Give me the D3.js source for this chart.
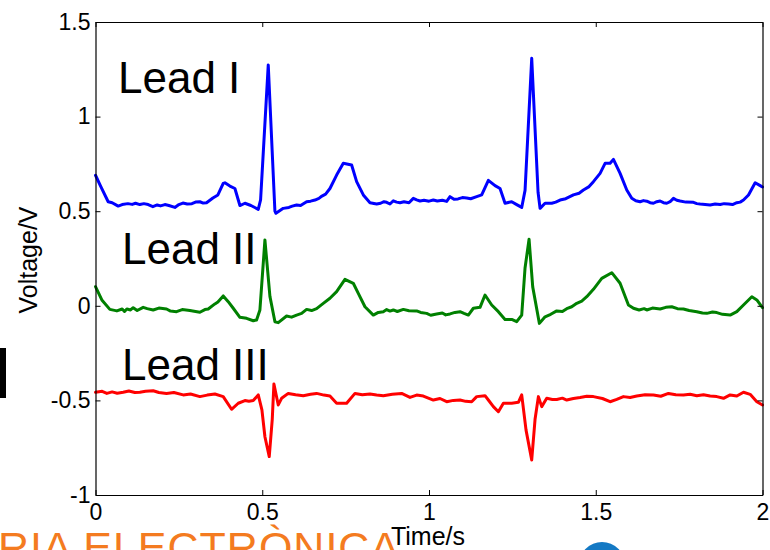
<!DOCTYPE html>
<html>
<head>
<meta charset="utf-8">
<script src="https://cdn.jsdelivr.net/npm/d3@7/dist/d3.min.js"></script>
<style>
  html, body { margin: 0; padding: 0; background: #fff; }
  svg { display: block; }
  text { font-family: "Liberation Sans", Arial, Helvetica, sans-serif; }
</style>
</head>
<body>
<script>
// ---------- data ----------
const xTicks = [0, 0.5, 1, 1.5, 2];
const yTicks = [-1, -0.5, 0, 0.5, 1, 1.5];
const leadNames = ["Lead I", "Lead II", "Lead III"];

const leadI_t = [0,0.016,0.038,0.05,0.068,0.08,0.097,0.11,0.12,0.133,0.145,0.158,0.172,0.185,0.195,0.208,0.22,0.238,0.25,0.262,0.275,0.289,0.30,0.313,0.323,0.333,0.343,0.352,0.367,0.383,0.388,0.403,0.418,0.433,0.448,0.466,0.488,0.495,0.518,0.538,0.541,0.563,0.58,0.59,0.603,0.615,0.633,0.645,0.658,0.67,0.679,0.69,0.703,0.723,0.743,0.768,0.783,0.803,0.823,0.843,0.855,0.865,0.873,0.883,0.893,0.903,0.913,0.925,0.94,0.953,0.963,0.973,0.985,1.0,1.013,1.025,1.04,1.053,1.063,1.075,1.087,1.10,1.113,1.125,1.143,1.158,1.178,1.198,1.213,1.228,1.248,1.263,1.278,1.288,1.308,1.327,1.333,1.348,1.368,1.38,1.393,1.41,1.433,1.45,1.463,1.48,1.493,1.513,1.528,1.543,1.553,1.573,1.593,1.608,1.62,1.633,1.643,1.653,1.663,1.673,1.683,1.693,1.703,1.713,1.723,1.733,1.743,1.753,1.77,1.793,1.803,1.813,1.828,1.843,1.858,1.873,1.885,1.898,1.91,1.923,1.933,1.943,1.958,1.978,1.993,2.0];
const leadI_v = [0.69,0.63,0.55,0.545,0.527,0.535,0.54,0.536,0.542,0.535,0.54,0.535,0.524,0.533,0.528,0.535,0.53,0.52,0.535,0.543,0.538,0.54,0.548,0.55,0.543,0.545,0.558,0.57,0.586,0.647,0.65,0.633,0.62,0.53,0.542,0.53,0.51,0.56,1.273,0.50,0.489,0.515,0.52,0.527,0.533,0.53,0.55,0.553,0.559,0.568,0.58,0.59,0.62,0.691,0.753,0.744,0.656,0.586,0.545,0.538,0.542,0.55,0.547,0.538,0.555,0.548,0.545,0.55,0.545,0.568,0.56,0.554,0.558,0.553,0.559,0.554,0.558,0.552,0.577,0.563,0.565,0.572,0.57,0.566,0.577,0.586,0.663,0.635,0.62,0.542,0.55,0.535,0.52,0.61,1.308,0.60,0.515,0.542,0.542,0.548,0.559,0.566,0.586,0.595,0.612,0.63,0.656,0.70,0.753,0.753,0.774,0.70,0.612,0.568,0.555,0.55,0.556,0.553,0.545,0.542,0.55,0.554,0.545,0.542,0.55,0.568,0.558,0.554,0.548,0.547,0.54,0.538,0.536,0.533,0.538,0.535,0.54,0.538,0.535,0.545,0.548,0.559,0.586,0.65,0.635,0.628];

const leadII_t = [0,0.019,0.043,0.064,0.08,0.087,0.094,0.105,0.113,0.125,0.143,0.155,0.173,0.19,0.213,0.225,0.243,0.26,0.283,0.30,0.313,0.328,0.338,0.358,0.367,0.383,0.398,0.413,0.433,0.453,0.473,0.483,0.493,0.508,0.523,0.538,0.548,0.573,0.588,0.603,0.618,0.633,0.648,0.663,0.683,0.703,0.723,0.748,0.773,0.788,0.808,0.833,0.848,0.863,0.873,0.883,0.893,0.905,0.923,0.94,0.963,0.975,0.993,1.005,1.023,1.04,1.05,1.063,1.078,1.093,1.105,1.118,1.133,1.153,1.168,1.188,1.208,1.228,1.248,1.263,1.278,1.288,1.300,1.311,1.331,1.348,1.365,1.383,1.40,1.413,1.428,1.443,1.458,1.473,1.493,1.518,1.548,1.573,1.598,1.613,1.63,1.645,1.653,1.67,1.693,1.71,1.728,1.745,1.763,1.78,1.803,1.82,1.833,1.85,1.863,1.88,1.903,1.923,1.943,1.968,1.983,2.0];
const leadII_v = [0.101,0.031,-0.019,-0.027,-0.017,-0.030,-0.017,-0.022,-0.010,-0.025,-0.008,-0.015,-0.022,-0.012,-0.017,-0.028,-0.031,-0.020,-0.025,-0.030,-0.034,-0.020,-0.017,0.010,0.020,0.052,0.022,-0.013,-0.061,-0.066,-0.079,-0.075,-0.022,0.348,0.05,-0.084,-0.089,-0.054,-0.060,-0.049,-0.040,-0.019,-0.025,-0.015,0.013,0.040,0.075,0.140,0.119,0.066,-0.005,-0.049,-0.035,-0.031,-0.020,-0.028,-0.022,-0.030,-0.019,-0.026,-0.027,-0.035,-0.040,-0.050,-0.043,-0.038,-0.048,-0.043,-0.035,-0.031,-0.040,-0.049,-0.013,-0.008,0.057,0.004,-0.031,-0.072,-0.072,-0.084,-0.049,0.20,0.352,0.10,-0.093,-0.058,-0.045,-0.027,-0.030,-0.015,-0.005,0.013,0.025,0.048,0.087,0.145,0.175,0.119,0.004,-0.013,-0.022,-0.015,-0.022,-0.012,-0.017,-0.008,-0.005,-0.015,-0.017,-0.025,-0.031,-0.038,-0.040,-0.033,-0.036,-0.045,-0.049,-0.031,0.004,0.048,0.031,-0.010];

const leadIII_t = [0,0.02,0.034,0.05,0.065,0.083,0.1,0.118,0.133,0.15,0.173,0.19,0.213,0.235,0.263,0.285,0.313,0.335,0.358,0.383,0.408,0.428,0.448,0.46,0.473,0.488,0.499,0.508,0.521,0.530,0.535,0.548,0.558,0.578,0.60,0.623,0.645,0.663,0.685,0.703,0.723,0.753,0.778,0.80,0.823,0.843,0.863,0.89,0.918,0.943,0.963,0.983,1.013,1.033,1.053,1.073,1.093,1.11,1.128,1.143,1.168,1.178,1.193,1.208,1.223,1.248,1.268,1.278,1.291,1.308,1.318,1.328,1.338,1.353,1.37,1.383,1.40,1.413,1.433,1.453,1.473,1.493,1.52,1.543,1.563,1.583,1.603,1.623,1.648,1.673,1.695,1.718,1.74,1.763,1.783,1.803,1.823,1.843,1.863,1.883,1.903,1.923,1.943,1.963,1.983,2.0];
const leadIII_v = [-0.457,-0.452,-0.463,-0.455,-0.462,-0.457,-0.450,-0.458,-0.457,-0.452,-0.449,-0.458,-0.463,-0.458,-0.471,-0.466,-0.480,-0.472,-0.466,-0.480,-0.547,-0.515,-0.501,-0.505,-0.501,-0.471,-0.55,-0.692,-0.797,-0.60,-0.413,-0.524,-0.489,-0.463,-0.470,-0.475,-0.468,-0.463,-0.472,-0.477,-0.515,-0.515,-0.463,-0.470,-0.466,-0.472,-0.475,-0.468,-0.463,-0.484,-0.472,-0.477,-0.498,-0.490,-0.507,-0.500,-0.498,-0.505,-0.507,-0.480,-0.475,-0.498,-0.533,-0.560,-0.515,-0.515,-0.510,-0.471,-0.657,-0.815,-0.60,-0.480,-0.533,-0.489,-0.495,-0.495,-0.488,-0.498,-0.490,-0.485,-0.478,-0.480,-0.490,-0.507,-0.495,-0.480,-0.485,-0.477,-0.470,-0.471,-0.478,-0.463,-0.470,-0.471,-0.468,-0.475,-0.470,-0.477,-0.480,-0.489,-0.471,-0.477,-0.457,-0.468,-0.507,-0.524];

const leadColors = ["#0000ff", "#008000", "#ff0000"];

// ---------- layout ----------
const W = 770, H = 550;
const plot = { left: 95.5, right: 762.5, top: 22, bottom: 495 };

const svg = d3.select("body").append("svg").attr("width", W).attr("height", H);

const x = d3.scaleLinear().domain([0, 2]).range([plot.left, plot.right]);
const y = d3.scaleLinear().domain([-1, 1.5]).range([plot.bottom, plot.top]);

// decorative slide remnants
svg.append("text")
  .attr("x", -2).attr("y", 562)
  .attr("fill", "#f47b20")
  .attr("font-size", 43)
  .attr("font-weight", 300)
  .attr("letter-spacing", 1)
  .attr("font-family", "'Open Sans', 'Liberation Sans', sans-serif")
  .text("RIA ELECTRÒNICA");
svg.append("circle").attr("cx", 602).attr("cy", 565).attr("r", 23).attr("fill", "#1479c4");
svg.append("rect").attr("x", 0).attr("y", 348).attr("width", 6).attr("height", 50).attr("fill", "#000");

// lines
const series = [
  { t: leadI_t, v: leadI_v },
  { t: leadII_t, v: leadII_v },
  { t: leadIII_t, v: leadIII_v }
];
const line = d3.line().x(d => x(d[0])).y(d => y(d[1]));
series.forEach((s, i) => {
  const pts = s.t.map((t, k) => [t, s.v[k]]);
  svg.append("path")
    .datum(pts)
    .attr("d", line)
    .attr("fill", "none")
    .attr("stroke", leadColors[i])
    .attr("stroke-width", 3)
    .attr("stroke-linejoin", "round")
    .attr("stroke-linecap", "round");
});

// axes
const fmt = d => String(d);
const tickFont = 23;
const gx = svg.append("g").attr("transform", `translate(0,${plot.bottom})`)
  .call(d3.axisBottom(x).tickValues(xTicks).tickFormat(fmt).tickSizeInner(-5).tickSizeOuter(0).tickPadding(9));
const gy = svg.append("g").attr("transform", `translate(${plot.left},0)`)
  .call(d3.axisLeft(y).tickValues(yTicks).tickFormat(fmt).tickSizeInner(-5).tickSizeOuter(0).tickPadding(5));
const gxt = svg.append("g").attr("transform", `translate(0,${plot.top})`)
  .call(d3.axisTop(x).tickValues(xTicks).tickFormat("").tickSizeInner(-5).tickSizeOuter(0));
const gyr = svg.append("g").attr("transform", `translate(${plot.right},0)`)
  .call(d3.axisRight(y).tickValues(yTicks).tickFormat("").tickSizeInner(-5).tickSizeOuter(0));
[gx, gy, gxt, gyr].forEach(g => {
  g.selectAll("path.domain").attr("stroke", "#000").attr("stroke-width", 1.2);
  g.selectAll(".tick line").attr("stroke", "#000");
  g.selectAll(".tick text").attr("fill", "#000").attr("font-size", tickFont)
    .attr("font-family", "'Liberation Sans', Arial, sans-serif");
});

// axis labels
svg.append("text")
  .attr("x", 428).attr("y", 545)
  .attr("text-anchor", "middle")
  .attr("font-size", 25)
  .text("Time/s");
svg.append("text")
  .attr("transform", "translate(37,260) rotate(-90)")
  .attr("text-anchor", "middle")
  .attr("font-size", 25)
  .text("Voltage/V");

// lead labels
const labelPos = [[118, 93], [122, 264], [122, 380]];
leadNames.forEach((n, i) => {
  svg.append("text")
    .attr("x", labelPos[i][0]).attr("y", labelPos[i][1])
    .attr("font-size", 44)
    .attr("fill", "#000")
    .text(n);
});
</script>
</body>
</html>
